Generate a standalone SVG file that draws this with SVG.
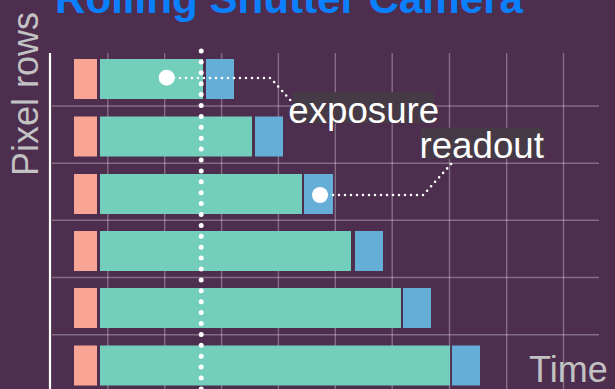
<svg xmlns="http://www.w3.org/2000/svg" width="615" height="389" viewBox="0 0 615 389">
<style>
.grid{stroke:#FFFFFF;stroke-opacity:0.3;stroke-width:1.4;fill:none}
.sal{fill:#F8A595}
.teal{fill:#73CFBC}
.blue{fill:#64AED7}
.axis{font-family:"Liberation Sans",Arial,sans-serif;font-size:36px;fill:#C2C2C2}
.lbl{font-family:"Liberation Sans",Arial,sans-serif;font-size:36.7px;fill:#FFFFFF}
.lblbg{fill:#463A46}
.dots{stroke:#FFFFFF;stroke-width:2.6;stroke-linecap:round;stroke-dasharray:0 6;fill:none}
</style>
<rect x="0" y="0" width="615" height="389" fill="#4E2E4F"/>
<text x="55" y="13.3" font-family="'Liberation Sans',Arial,sans-serif" font-weight="bold" font-size="42" fill="#0A80FF" textLength="468" lengthAdjust="spacingAndGlyphs">Rolling Shutter Camera</text>
<g id="grid" class="grid">
<line x1="107.8" y1="53" x2="107.8" y2="389"/>
<line x1="164.7" y1="53" x2="164.7" y2="389"/>
<line x1="221.6" y1="53" x2="221.6" y2="389"/>
<line x1="278.4" y1="53" x2="278.4" y2="389"/>
<line x1="335.3" y1="53" x2="335.3" y2="389"/>
<line x1="392.2" y1="53" x2="392.2" y2="389"/>
<line x1="449.5" y1="53" x2="449.5" y2="389"/>
<line x1="506.7" y1="53" x2="506.7" y2="389"/>
<line x1="563.5" y1="53" x2="563.5" y2="389"/>
<line x1="52" y1="106" x2="599" y2="106"/>
<line x1="52" y1="163.3" x2="599" y2="163.3"/>
<line x1="52" y1="220.3" x2="599" y2="220.3"/>
<line x1="52" y1="277.5" x2="599" y2="277.5"/>
<line x1="52" y1="334.7" x2="599" y2="334.7"/>
</g>
<line x1="50" y1="53" x2="50" y2="389" stroke="#FFFFFF" stroke-width="2.2"/>
<text class="axis" transform="translate(38,176) rotate(-90)">Pixel rows</text>
<text class="axis" x="529" y="382">Time</text>
<g id="row1"><rect class="sal" x="74" y="59" width="23" height="40"/><rect class="teal" x="100" y="59" width="103" height="40"/><rect class="blue" x="206" y="59" width="28" height="40"/></g>
<g id="row2"><rect class="sal" x="74" y="116.5" width="23" height="40"/><rect class="teal" x="100" y="116.5" width="152" height="40"/><rect class="blue" x="255" y="116.5" width="28" height="40"/></g>
<g id="row3"><rect class="sal" x="74" y="174" width="23" height="40"/><rect class="teal" x="100" y="174" width="202" height="40"/><rect class="blue" x="304" y="174" width="29" height="40"/></g>
<g id="row4"><rect class="sal" x="74" y="231" width="23" height="40"/><rect class="teal" x="100" y="231" width="251" height="40"/><rect class="blue" x="355" y="231" width="28" height="40"/></g>
<g id="row5"><rect class="sal" x="74" y="288" width="23" height="40"/><rect class="teal" x="100" y="288" width="301" height="40"/><rect class="blue" x="403" y="288" width="28" height="40"/></g>
<g id="row6"><rect class="sal" x="74" y="345.5" width="23" height="40"/><rect class="teal" x="100" y="345.5" width="350" height="40"/><rect class="blue" x="452" y="345.5" width="28" height="40"/></g>
<line x1="201.2" y1="51" x2="201.2" y2="389" stroke="#FFFFFF" stroke-width="5" stroke-linecap="round" stroke-dasharray="0 10.9"/>
<g id="exposure">
<rect class="lblbg" x="293" y="92.3" width="141" height="31"/>
<text class="lbl" x="288.3" y="123.3">exposure</text>
<path class="dots" d="M174,78 H270.5 L291.7,101.7"/>
<circle cx="166.7" cy="77.7" r="8" fill="#FFFFFF"/>
</g>
<g id="readout">
<rect class="lblbg" x="420.7" y="127.7" width="122.6" height="31"/>
<text class="lbl" x="419.5" y="158.3">readout</text>
<path class="dots" d="M327,195 H423.3 L451.7,163.3"/>
<circle cx="320" cy="195" r="8" fill="#FFFFFF"/>
</g>
</svg>
